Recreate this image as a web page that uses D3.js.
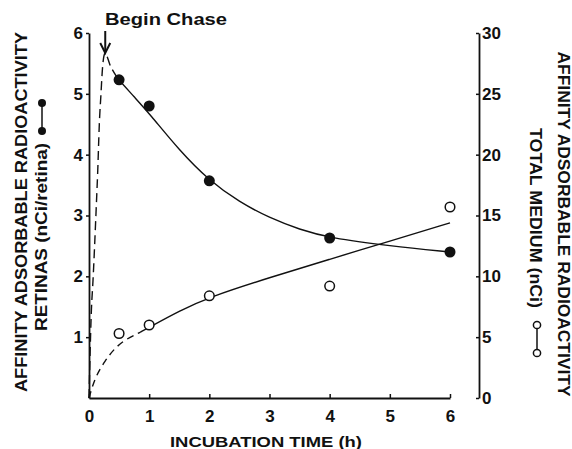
<!DOCTYPE html>
<html><head><meta charset="utf-8">
<script src="https://cdn.jsdelivr.net/npm/d3@7"></script>
<style>body{margin:0;background:#fff}svg{display:block}text{font-family:"Liberation Sans",Arial,sans-serif;font-weight:bold;fill:#111}</style>
</head><body><svg id="c" width="572" height="449"></svg>
<script>
// Data
const timeH = [0.5, 1, 2, 4, 6];
const retinaVals = [5.23, 4.8, 3.57, 2.63, 2.4];      // nCi/retina (left axis)
const mediumVals = [5.3, 6.0, 8.4, 9.2, 15.7];       // nCi (right axis)
const retinaRiseT = [0, 0.04, 0.07, 0.14, 0.19, 0.27, 0.36, 0.48];
const retinaRiseV = [0, 1.45, 2.0, 3.6, 4.85, 5.67, 5.45, 5.25];
const retinaFitT = [0.48, 0.75, 1, 1.5, 2, 2.5, 3, 3.5, 4, 5, 6];
const retinaFitV = [5.25, 4.95, 4.68, 4.07, 3.57, 3.22, 2.96, 2.77, 2.63, 2.5, 2.4];
const mediumRiseT = [0, 0.1, 0.27, 0.43, 0.6, 0.85];
const mediumRiseV = [0, 1.7, 3.1, 4.1, 4.8, 5.4];
const mediumFitT = [0.85, 1, 1.5, 2, 3, 4, 5, 6];
const mediumFitV = [5.4, 5.8, 7.15, 8.3, 9.9, 11.4, 12.9, 14.4];
const xTicks = [0, 1, 2, 3, 4, 5, 6];
const yLeftTicks = [1, 2, 3, 4, 5, 6];
const yRightTicks = [0, 5, 10, 15, 20, 25, 30];

const svg = d3.select("#c");
const x = d3.scaleLinear().domain([0, 6]).range([89, 450]);
const yL = d3.scaleLinear().domain([0, 6]).range([398, 33]);
const yR = d3.scaleLinear().domain([0, 30]).range([398, 33]);

// axes
const gx = svg.append("g").attr("transform", "translate(0,398)")
  .call(d3.axisBottom(x).tickValues(xTicks).tickFormat(d3.format("d")).tickSizeInner(-4).tickSizeOuter(0).tickPadding(12));
const gl = svg.append("g").attr("transform", "translate(89,0)")
  .call(d3.axisLeft(yL).tickValues(yLeftTicks).tickFormat(d3.format("d")).tickSizeInner(3).tickSizeOuter(0).tickPadding(3));
const gr = svg.append("g").attr("transform", "translate(479,0)")
  .call(d3.axisRight(yR).tickValues(yRightTicks).tickFormat(d3.format("d")).tickSizeInner(-3).tickSizeOuter(0).tickPadding(5));
[gx, gl, gr].forEach(g => {
  g.select(".domain").attr("stroke", "#111").attr("stroke-width", 1.8);
  g.selectAll(".tick line").attr("stroke", "#111").attr("stroke-width", 1.5);
  g.selectAll("text").style("font-size", "17px").style("font-family", "Liberation Sans, Arial, sans-serif").style("font-weight", "bold").attr("fill", "#111");
});
gx.selectAll("text").attr("dy", "0.71em").attr("y", 12);
gr.selectAll(".tick text").attr("x", 3);

// lines
const lineL = d3.line().x(d => x(d[0])).y(d => yL(d[1])).curve(d3.curveBasis);
const lineR = d3.line().x(d => x(d[0])).y(d => yR(d[1])).curve(d3.curveBasis);
const lineLLin = d3.line().x(d => x(d[0])).y(d => yL(d[1])).curve(d3.curveCatmullRom);
const zip = (a, b) => a.map((t, i) => [t, b[i]]);

svg.append("path").attr("d", lineLLin(zip(retinaRiseT, retinaRiseV)))
  .attr("fill", "none").attr("stroke", "#111").attr("stroke-width", 1.4).attr("stroke-dasharray", "9,5");
svg.append("path").attr("d", lineL(zip(retinaFitT, retinaFitV)))
  .attr("fill", "none").attr("stroke", "#111").attr("stroke-width", 1.4);
svg.append("path").attr("d", lineR(zip(mediumRiseT, mediumRiseV)))
  .attr("fill", "none").attr("stroke", "#111").attr("stroke-width", 1.4).attr("stroke-dasharray", "7,5");
svg.append("path").attr("d", lineR(zip(mediumFitT, mediumFitV)))
  .attr("fill", "none").attr("stroke", "#111").attr("stroke-width", 1.4);

// points
svg.append("g").selectAll("circle").data(zip(timeH, retinaVals)).join("circle")
  .attr("cx", d => x(d[0])).attr("cy", d => yL(d[1])).attr("r", 5.5).attr("fill", "#111");
svg.append("g").selectAll("circle").data(zip(timeH, mediumVals)).join("circle")
  .attr("cx", d => x(d[0])).attr("cy", d => yR(d[1])).attr("r", 4.8)
  .attr("fill", "#fff").attr("stroke", "#111").attr("stroke-width", 1.5);

// Begin Chase annotation
svg.append("text").attr("x", 105).attr("y", 25).style("font-size", "16px")
  .attr("textLength", 122).attr("lengthAdjust", "spacingAndGlyphs").text("Begin Chase");
const ax = x(0.27);
svg.append("line").attr("x1", ax).attr("x2", ax).attr("y1", 31).attr("y2", 51).attr("stroke", "#111").attr("stroke-width", 2);
svg.append("path").attr("d", `M${ax-5},${43} L${ax},${53} L${ax+5},${43}`).attr("fill", "none").attr("stroke", "#111").attr("stroke-width", 2);

// X title
svg.append("text").attr("x", 266).attr("y", 447).attr("text-anchor", "middle").style("font-size", "15px")
  .attr("textLength", 192).attr("lengthAdjust", "spacingAndGlyphs").text("INCUBATION TIME (h)");

// Left title
const lt = svg.append("g");
lt.append("text").attr("transform", "translate(27,212) rotate(-90)").attr("text-anchor", "middle")
  .style("font-size", "16px").attr("textLength", 360).attr("lengthAdjust", "spacingAndGlyphs").text("AFFINITY ADSORBABLE RADIOACTIVITY");
lt.append("text").attr("transform", "translate(47,237) rotate(-90)").attr("text-anchor", "middle")
  .style("font-size", "16px").attr("textLength", 188).attr("lengthAdjust", "spacingAndGlyphs").text("RETINAS (nCi/retina)");
lt.append("line").attr("x1", 42).attr("x2", 42).attr("y1", 103).attr("y2", 131).attr("stroke", "#111").attr("stroke-width", 1.5);
lt.append("circle").attr("cx", 42).attr("cy", 103).attr("r", 4).attr("fill", "#111");
lt.append("circle").attr("cx", 42).attr("cy", 131).attr("r", 4).attr("fill", "#111");

// Right title
const rt = svg.append("g");
rt.append("text").attr("transform", "translate(558,224) rotate(90)").attr("text-anchor", "middle")
  .style("font-size", "16px").attr("textLength", 345).attr("lengthAdjust", "spacingAndGlyphs").text("AFFINITY ADSORBABLE RADIOACTIVITY");
rt.append("text").attr("transform", "translate(530,218) rotate(90)").attr("text-anchor", "middle")
  .style("font-size", "16px").attr("textLength", 180).attr("lengthAdjust", "spacingAndGlyphs").text("TOTAL MEDIUM (nCi)");
rt.append("line").attr("x1", 537).attr("x2", 537).attr("y1", 325).attr("y2", 353).attr("stroke", "#111").attr("stroke-width", 1.5);
rt.append("circle").attr("cx", 537).attr("cy", 325).attr("r", 3.6).attr("fill", "#fff").attr("stroke", "#111").attr("stroke-width", 1.5);
rt.append("circle").attr("cx", 537).attr("cy", 353).attr("r", 3.6).attr("fill", "#fff").attr("stroke", "#111").attr("stroke-width", 1.5);
</script></body></html>
